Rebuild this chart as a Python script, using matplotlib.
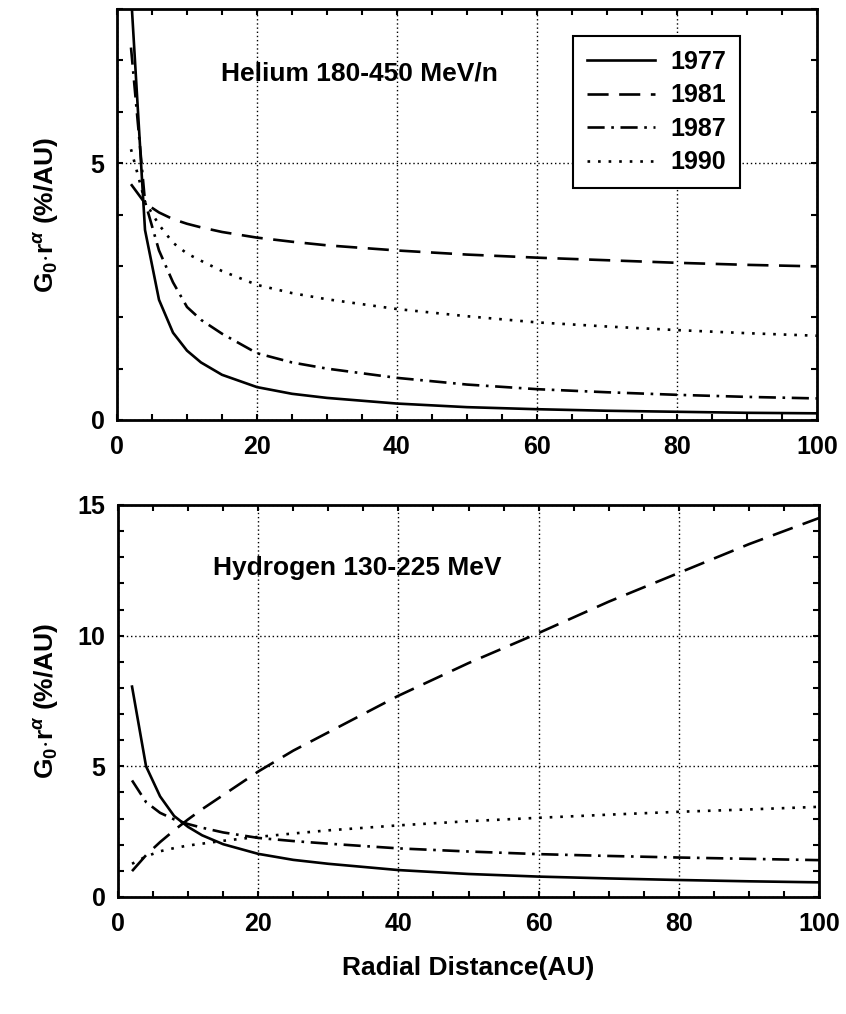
import matplotlib
matplotlib.use('Agg')
import matplotlib.pyplot as plt
from matplotlib.ticker import MultipleLocator

plt.rcParams['font.family'] = ['Liberation Sans', 'DejaVu Sans']
plt.rcParams['font.weight'] = 'bold'
plt.rcParams['axes.labelweight'] = 'bold'
plt.rcParams['mathtext.fontset'] = 'custom'
plt.rcParams['mathtext.rm'] = 'Liberation Sans:bold'
plt.rcParams['mathtext.it'] = 'Liberation Sans:italic:bold'

# radial distance grid (AU)
r_au = [2, 4, 6, 8, 10, 12, 15, 20, 25, 30, 40, 50, 60, 70, 80, 90, 100]
years = ['1977', '1981', '1987', '1990']

# Helium 180-450 MeV/n
he_1977 = [8.3, 3.7, 2.34, 1.70, 1.35, 1.12, 0.88, 0.64, 0.51, 0.43, 0.32, 0.25, 0.21, 0.18, 0.16, 0.14, 0.13]
he_1981 = [4.59, 4.22, 4.04, 3.91, 3.82, 3.75, 3.66, 3.55, 3.47, 3.40, 3.30, 3.22, 3.16, 3.11, 3.06, 3.02, 2.99]
he_1987 = [7.25, 4.25, 3.30, 2.68, 2.20, 1.95, 1.68, 1.30, 1.12, 1.00, 0.82, 0.69, 0.60, 0.54, 0.49, 0.45, 0.42]
he_1990 = [5.27, 4.25, 3.80, 3.45, 3.24, 3.10, 2.90, 2.63, 2.47, 2.35, 2.16, 2.02, 1.90, 1.82, 1.75, 1.69, 1.64]

# Hydrogen 130-225 MeV
h_1977 = [8.05, 5.0, 3.85, 3.10, 2.68, 2.36, 2.02, 1.65, 1.42, 1.27, 1.03, 0.88, 0.78, 0.71, 0.65, 0.60, 0.56]
h_1981 = [0.99, 1.60, 2.10, 2.55, 2.97, 3.36, 3.90, 4.80, 5.60, 6.30, 7.70, 8.95, 10.1, 11.3, 12.4, 13.5, 14.5]
h_1987 = [4.46, 3.63, 3.22, 2.97, 2.79, 2.65, 2.47, 2.26, 2.14, 2.04, 1.86, 1.74, 1.64, 1.57, 1.51, 1.46, 1.41]
h_1990 = [1.27, 1.55, 1.75, 1.87, 1.97, 2.04, 2.15, 2.30, 2.43, 2.55, 2.74, 2.90, 3.03, 3.15, 3.26, 3.35, 3.45]

styles = ['-', (0, (8, 4)), (0, (6.5, 2.5, 1, 2.5)), (0, (1, 3))]
lw = 1.9


def setup(ax, ymax, ystep):
    ax.set_xlim(0, 100)
    ax.set_ylim(0, ymax)
    ax.xaxis.set_major_locator(MultipleLocator(20))
    ax.xaxis.set_minor_locator(MultipleLocator(5))
    ax.yaxis.set_major_locator(MultipleLocator(ystep))
    ax.yaxis.set_minor_locator(MultipleLocator(1))
    ax.tick_params(which='both', direction='in', length=4.5, width=1.5,
                   top=True, right=True, labelsize=18)
    ax.tick_params(axis='x', pad=11)
    ax.tick_params(axis='y', pad=9)
    ax.grid(True, which='major', color='k', linestyle=(0, (1, 2)), linewidth=1.0)
    for s in ax.spines.values():
        s.set_linewidth(2)
    ax.set_ylabel(r'G$_0$$\cdot$r$^{\alpha}$ (%/AU)', fontsize=19, labelpad=21)


fig = plt.figure(figsize=(8.46, 10.14), dpi=100)

ax1 = fig.add_axes([0.1383, 0.5858, 0.8274, 0.4053])
for vals, yr, ls in zip([he_1977, he_1981, he_1987, he_1990], years, styles):
    ax1.plot(r_au, vals, color='k', linestyle=ls, linewidth=lw, label=yr)
setup(ax1, 8, 5)
ax1.text(34.7, 6.74, 'Helium 180-450 MeV/n', fontsize=19, ha='center', va='center')
leg = ax1.legend(loc='upper right', bbox_to_anchor=(0.89, 0.934), borderaxespad=0,
                 fontsize=18, handlelength=2.75, handletextpad=0.6, borderpad=0.55,
                 labelspacing=0.38, fancybox=False, edgecolor='k', framealpha=1)
leg.get_frame().set_linewidth(1.5)

ax2 = fig.add_axes([0.1395, 0.1154, 0.8286, 0.3866])
for vals, yr, ls in zip([h_1977, h_1981, h_1987, h_1990], years, styles):
    ax2.plot(r_au, vals, color='k', linestyle=ls, linewidth=lw, label=yr)
setup(ax2, 15, 5)
ax2.yaxis.labelpad = 12
ax2.text(34.1, 12.6, 'Hydrogen 130-225 MeV', fontsize=19, ha='center', va='center')
ax2.set_xlabel('Radial Distance(AU)', fontsize=19, labelpad=14)

fig.savefig('out.png', dpi=100)
